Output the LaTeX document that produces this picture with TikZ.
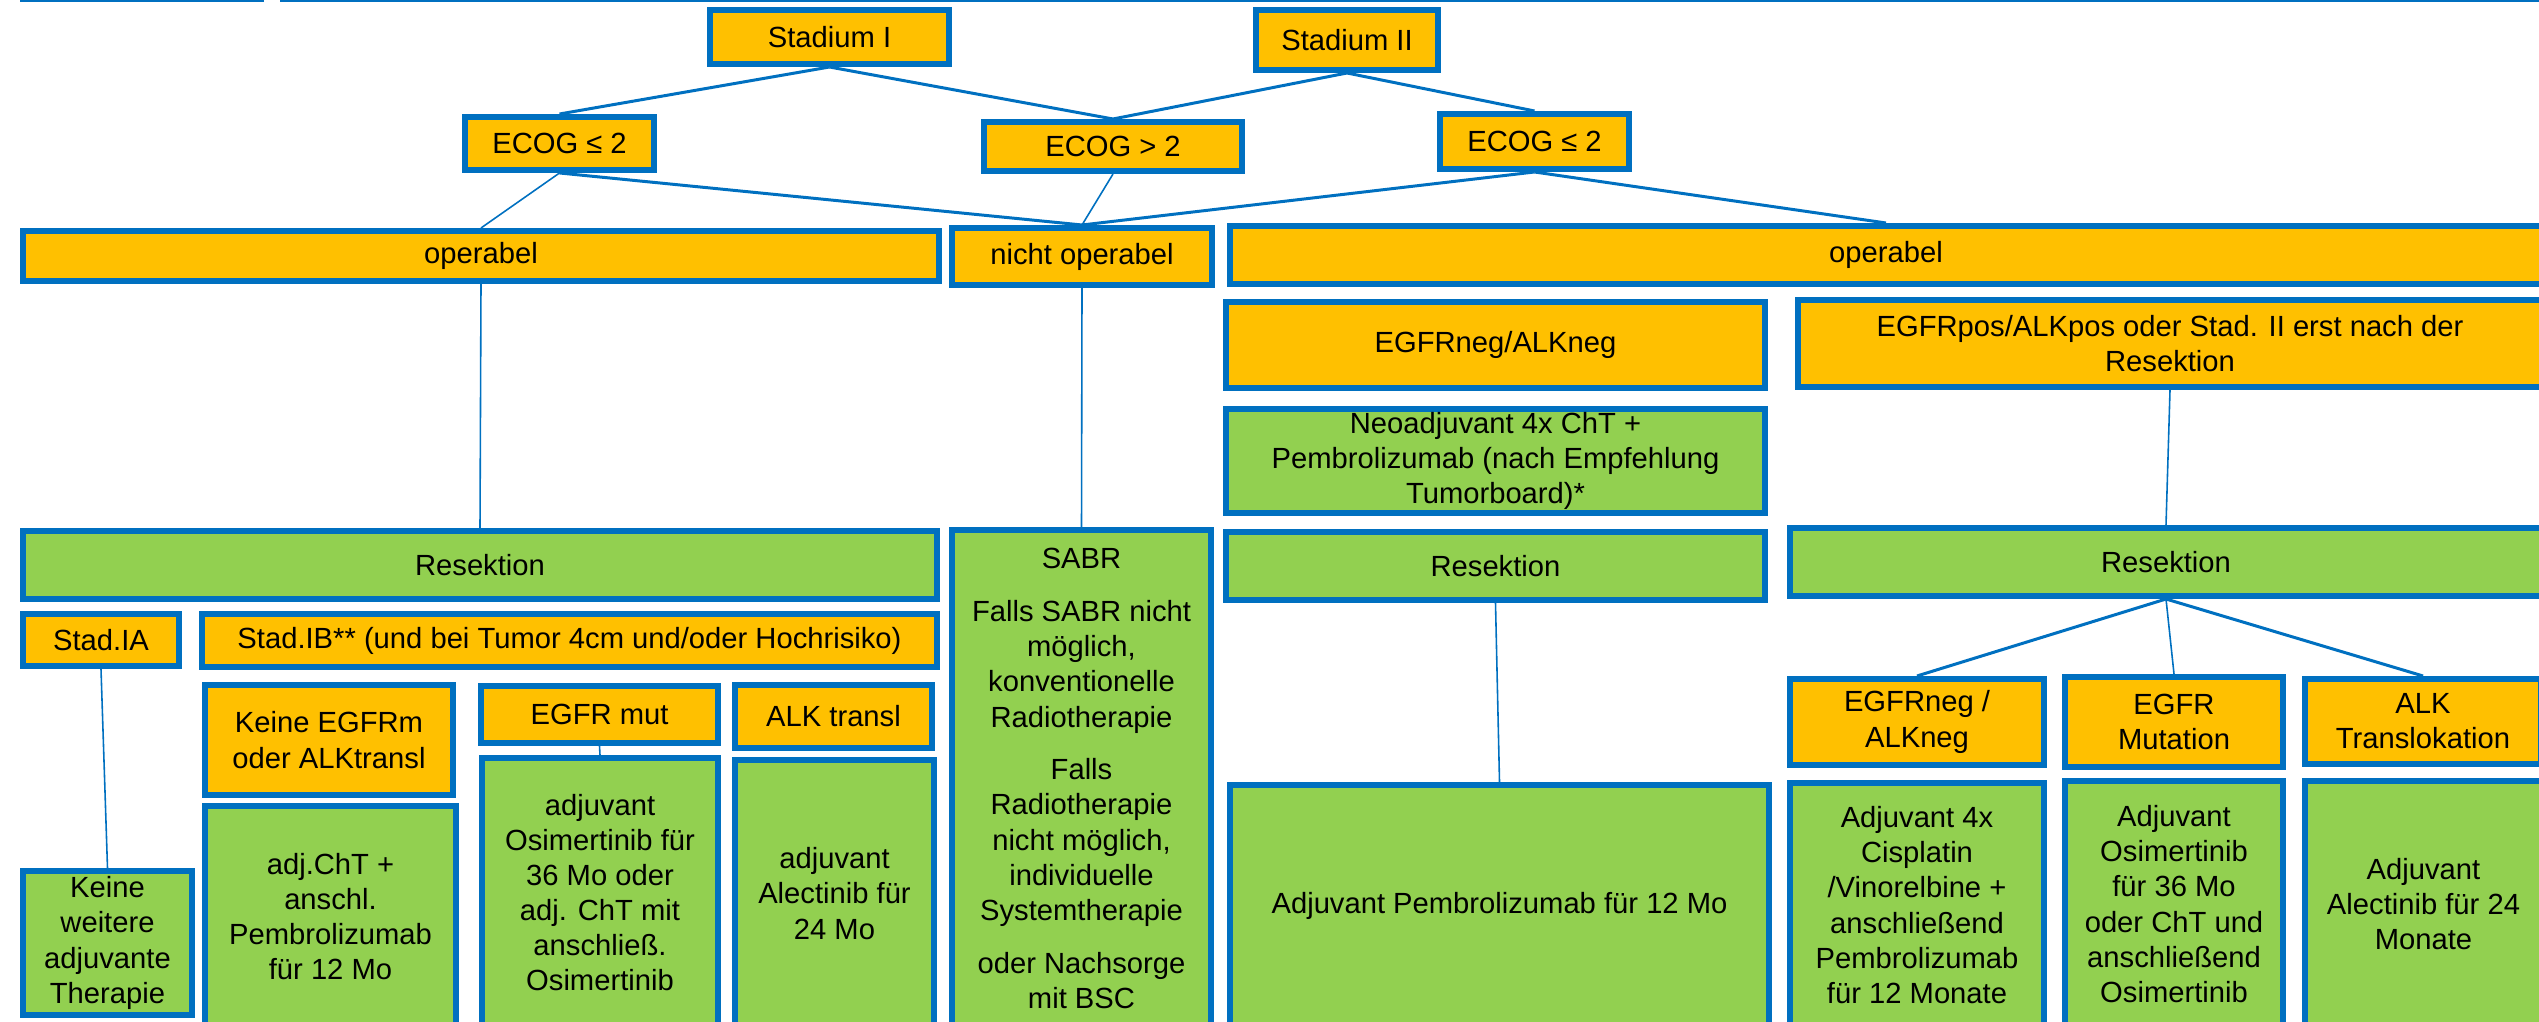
\documentclass[tikz,border=0pt]{standalone}
\usepackage{fontspec}
\setmainfont{Liberation Sans}
\usetikzlibrary{positioning}
\definecolor{boxblue}{HTML}{0070C0}
\definecolor{boxorange}{HTML}{FFC000}
\definecolor{boxgreen}{HTML}{92D050}

\begin{document}
\begin{tikzpicture}[x=0.01cm, y=-0.01cm,
  condnode/.style={rectangle, draw=boxblue, fill=boxorange, line width=1.7pt, inner sep=1pt, align=center, font=\fontsize{8.3}{10}\selectfont},
  therapynode/.style={rectangle, draw=boxblue, fill=boxgreen, line width=1.7pt, inner sep=1pt, align=center, font=\fontsize{8.3}{10}\selectfont},
  link/.style={draw=boxblue, line width=0.85pt},
  thinlink/.style={draw=boxblue, line width=0.45pt},
]
\useasboundingbox (0,0) rectangle (2539,1022);
\clip (0,0) rectangle (2539,1022);

% Header strip
\fill[boxblue] (20,-10) rectangle (264,2.5);
\draw[boxblue, line width=0.5pt] (280,0.8) -- (2539,0.8);

% Stages and ECOG
\node[condnode, minimum width=2.39cm, minimum height=0.54cm] (stI) at (829.5,37) {Stadium I};
\node[condnode, minimum width=1.82cm, minimum height=0.60cm] (stII) at (1347,40) {Stadium II};
\node[condnode, minimum width=1.89cm, minimum height=0.53cm] (ecogA) at (559.5,143.5) {ECOG ≤ 2};
\node[condnode, minimum width=2.58cm, minimum height=0.49cm] (ecogB) at (1113,146.5) {ECOG > 2};
\node[condnode, minimum width=1.89cm, minimum height=0.55cm] (ecogC) at (1534.5,141.5) {ECOG ≤ 2};

% Operability
\node[condnode, minimum width=9.16cm, minimum height=0.50cm] (opA) at (481,256) {operabel};
\node[condnode, minimum width=2.60cm, minimum height=0.57cm] (nop) at (1082,256.5) {nicht operabel};
\node[condnode, minimum width=13.12cm, minimum height=0.58cm] (opB) at (1886,255) {operabel};

% Stadium II operable branch
\node[condnode, minimum width=5.39cm, minimum height=0.86cm] (egfrneg) at (1495.5,345) {EGFRneg/ALKneg};
\node[condnode, minimum width=7.44cm, minimum height=0.87cm] (egfrpos) at (2170,343.5) {EGFRpos/ALKpos oder Stad. II erst nach der\\Resektion};
\node[therapynode, minimum width=5.39cm, minimum height=1.00cm] (neo) at (1495.5,461) {Neoadjuvant 4x ChT +\\Pembrolizumab (nach Empfehlung\\Tumorboard)*};

% Resection row
\node[therapynode, minimum width=9.14cm, minimum height=0.68cm] (resA) at (480,565) {Resektion};
\node[therapynode, minimum width=2.59cm, minimum height=4.97cm] (sabr) at (1081.5,778.5) {SABR\\[5pt]Falls SABR nicht\\möglich,\\konventionelle\\Radiotherapie\\[5pt]Falls\\Radiotherapie\\nicht möglich,\\individuelle\\Systemtherapie\\[5pt]oder Nachsorge\\mit BSC};
\node[therapynode, minimum width=5.39cm, minimum height=0.68cm] (resB) at (1495.5,566) {Resektion};
\node[therapynode, minimum width=7.52cm, minimum height=0.68cm] (resC) at (2166,562) {Resektion};

% Stadium I operable
\node[condnode, minimum width=1.56cm, minimum height=0.52cm] (stIA) at (101,640) {Stad.IA};
\node[condnode, minimum width=7.35cm, minimum height=0.53cm] (stIB) at (569.5,640.5) {Stad.IB** (und bei Tumor 4cm und/oder Hochrisiko)};
\node[condnode, minimum width=2.48cm, minimum height=1.10cm] (keineEGFR) at (329,740) {Keine EGFRm\\oder ALKtransl};
\node[condnode, minimum width=2.37cm, minimum height=0.57cm] (egfrmut) at (599.5,714.5) {EGFR mut};
\node[condnode, minimum width=1.97cm, minimum height=0.63cm] (alktransl) at (833.5,716.5) {ALK transl};
\node[therapynode, minimum width=2.51cm, minimum height=2.21cm] (adjcht) at (330.5,916.5) {adj.ChT +\\anschl.\\Pembrolizumab\\für 12 Mo};
\node[therapynode, minimum width=2.36cm, minimum height=2.69cm] (osiA) at (600,892.5) {adjuvant\\Osimertinib für\\36 Mo oder\\adj. ChT mit\\anschließ.\\Osimertinib};
\node[therapynode, minimum width=1.99cm, minimum height=2.67cm] (alecA) at (834.5,893.5) {adjuvant\\Alectinib für\\24 Mo};
\node[therapynode, minimum width=1.69cm, minimum height=1.44cm] (keineTher) at (107.5,943) {Keine\\weitere\\adjuvante\\Therapie};

% Stadium II after resection
\node[therapynode, minimum width=5.39cm, minimum height=2.42cm] (pembro) at (1499.5,906) {Adjuvant Pembrolizumab für 12 Mo};
\node[condnode, minimum width=2.54cm, minimum height=0.86cm] (negB) at (1917,722) {EGFRneg /\\ALKneg};
\node[condnode, minimum width=2.18cm, minimum height=0.90cm] (mutB) at (2174,722) {EGFR\\Mutation};
\node[condnode, minimum width=2.36cm, minimum height=0.85cm] (alkB) at (2423,721.5) {ALK\\Translokation};
\node[therapynode, minimum width=2.54cm, minimum height=2.44cm] (cisB) at (1917,905) {Adjuvant 4x\\Cisplatin\\/Vinorelbine +\\anschließend\\Pembrolizumab\\für 12 Monate};
\node[therapynode, minimum width=2.18cm, minimum height=2.46cm] (osiB) at (2174,904) {Adjuvant\\Osimertinib\\für 36 Mo\\oder ChT und\\anschließend\\Osimertinib};
\node[therapynode, minimum width=2.37cm, minimum height=2.46cm] (alecB) at (2423.5,904) {Adjuvant\\Alectinib für 24\\Monate};

% Lines
\draw[link] (stI.south) -- (ecogA.north);
\draw[link] (stI.south) -- (ecogB.north);
\draw[link] (stII.south) -- (ecogB.north);
\draw[link] (stII.south) -- (ecogC.north);
\draw[thinlink] (ecogA.south) -- (opA.north);
\draw[link] (ecogA.south) -- (nop.north);
\draw[thinlink] (ecogB.south) -- (nop.north);
\draw[link] (ecogC.south) -- (nop.north);
\draw[link] (ecogC.south) -- (opB.north);
\draw[thinlink] (opA.south) -- (resA.north);
\draw[thinlink] (nop.south) -- (sabr.north);
\draw[thinlink] (egfrpos.south) -- (resC.north);
\draw[thinlink] (resB.south) -- (pembro.north);
\draw[link] (resC.south) -- (negB.north);
\draw[thinlink] (resC.south) -- (mutB.north);
\draw[link] (resC.south) -- (alkB.north);
\draw[thinlink] (stIA.south) -- (keineTher.north);
\draw[thinlink] (egfrmut.south) -- (osiA.north);

\end{tikzpicture}
\end{document}
